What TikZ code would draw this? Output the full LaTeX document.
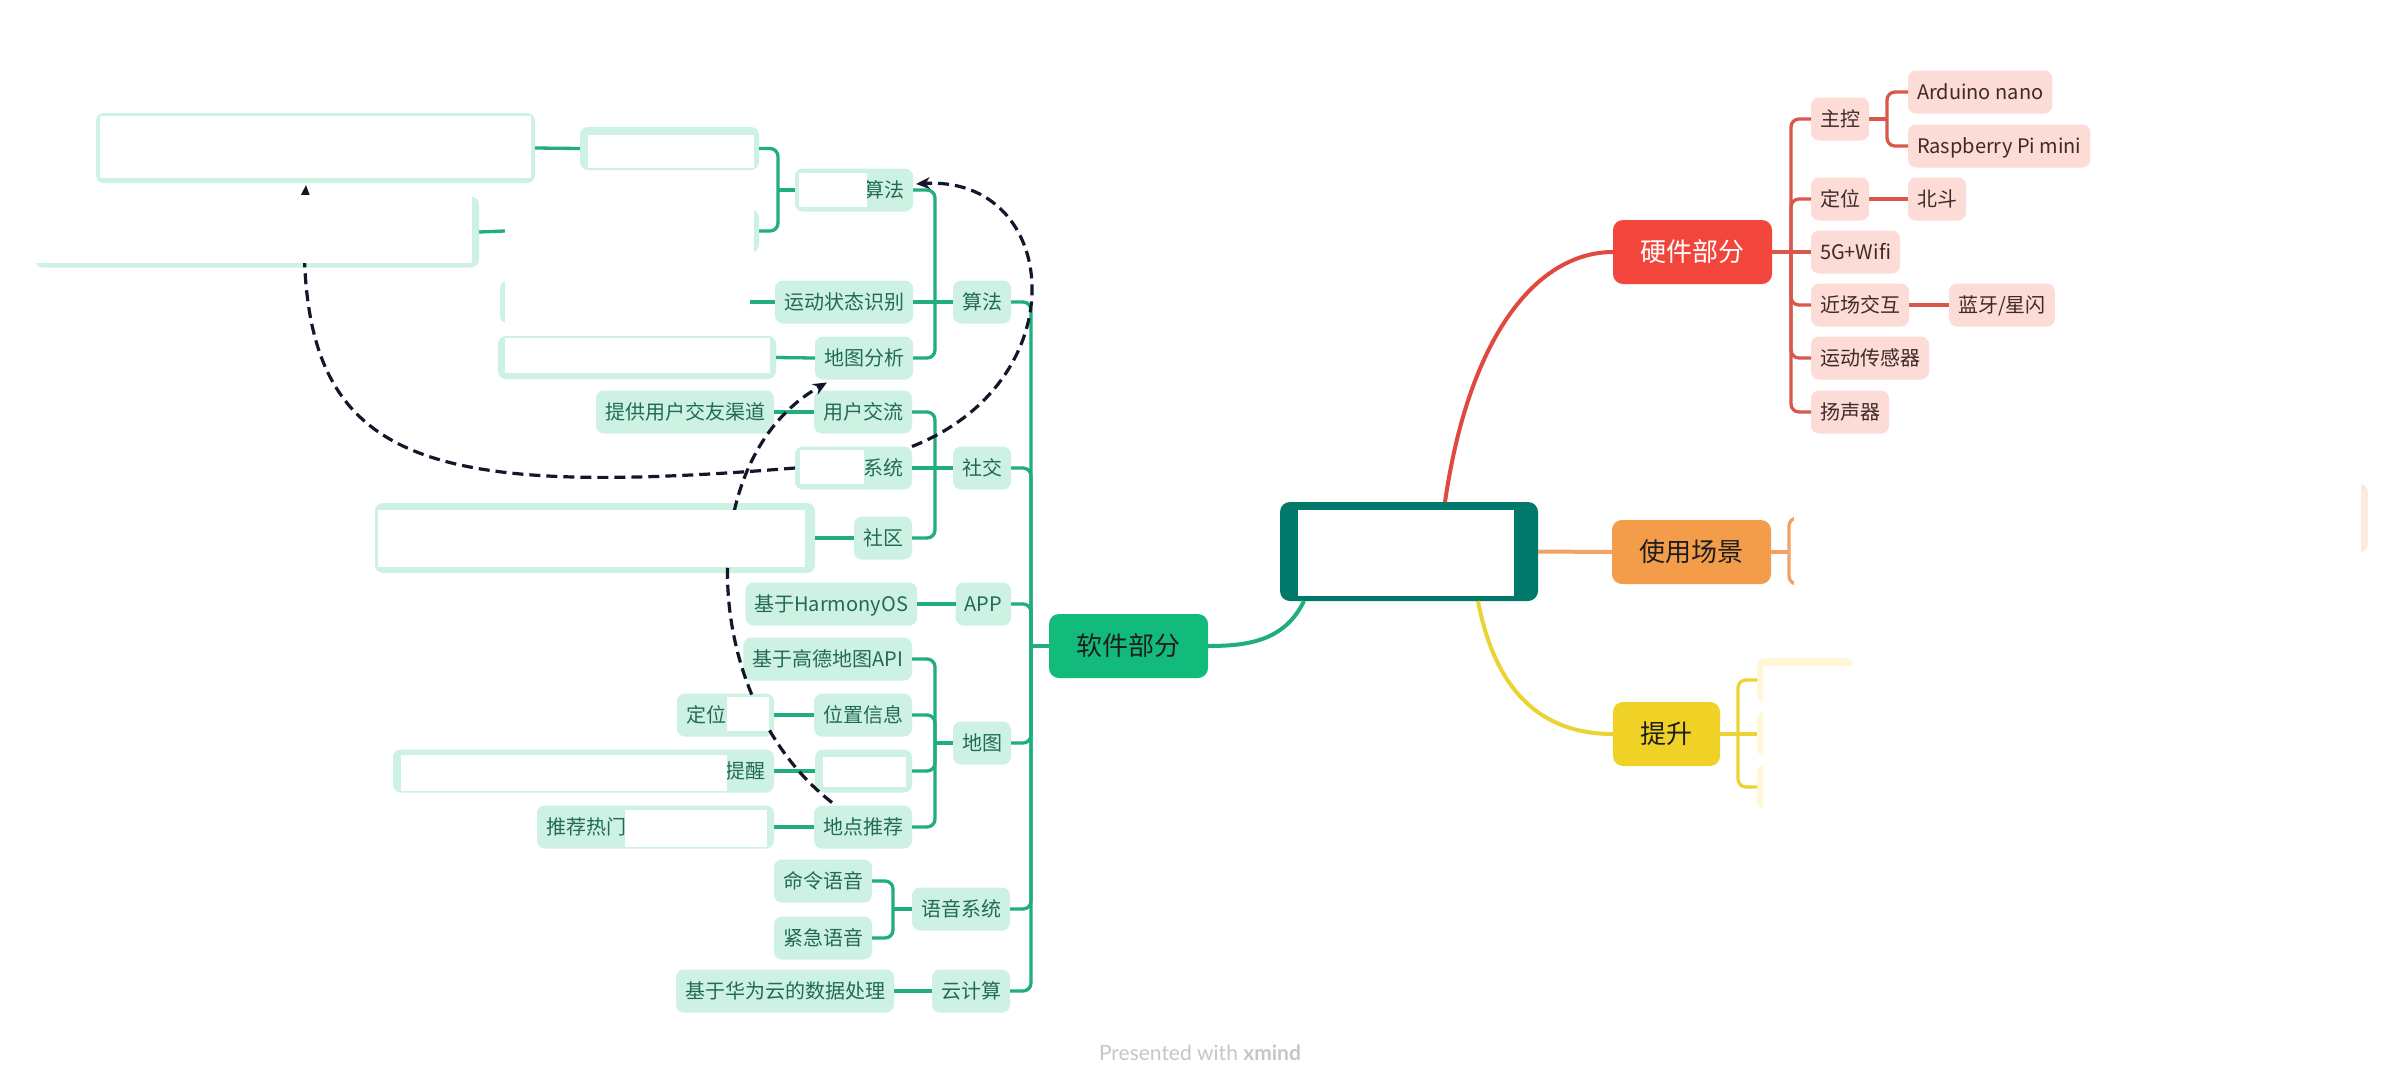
\documentclass[tikz,border=0pt]{standalone}
\usepackage{fontspec}
\newfontfamily\cjk{Noto Sans CJK SC}
\newfontfamily\latofont{Lato}
\usetikzlibrary{arrows.meta,calc}
\definecolor{cTeal}{HTML}{00796B}
\definecolor{hwMain}{HTML}{F2463C}
\definecolor{usMain}{HTML}{F39D4A}
\definecolor{imMain}{HTML}{F0D226}
\definecolor{swMain}{HTML}{12BB7C}
\definecolor{mint}{HTML}{CDF2E3}
\definecolor{pinkc}{HTML}{FDDBD7}
\definecolor{peach}{HTML}{FDEADF}
\definecolor{lyellow}{HTML}{FEF6D4}
\definecolor{swLine}{HTML}{20AE7B}
\definecolor{hwLine}{HTML}{D9574C}
\definecolor{hwCurve}{HTML}{E0493E}
\definecolor{usCurve}{HTML}{F2A264}
\definecolor{imCurve}{HTML}{EAD333}
\definecolor{swText}{HTML}{226B52}
\definecolor{hwText}{HTML}{3E2B28}
\definecolor{darkText}{HTML}{1E1E1E}
\definecolor{arrowC}{HTML}{16162A}
\definecolor{footGray}{HTML}{C6C6C6}
\tikzset{
  basebox/.style={font={\cjk\fontsize{10}{12}\selectfont}, rounded corners=4pt,
    inner xsep=4.5pt, inner ysep=0pt, minimum height=21.5pt,
    text height=8.8pt, text depth=1.2pt, outer sep=0pt},
  swbox/.style={basebox, fill=mint, text=swText},
  hwbox/.style={basebox, fill=pinkc, text=hwText},
  sblank/.style={fill=mint, rounded corners=4pt, inner sep=0pt, outer sep=0pt, minimum height=21.5pt},
  mainbox/.style={font={\cjk\fontsize{13}{15}\selectfont}, rounded corners=5pt,
    minimum height=32pt, inner xsep=13.75pt, inner ysep=0pt,
    text height=11.44pt, text depth=1.56pt, outer sep=0pt},
  swline/.style={draw=swLine, line width=1.65pt, rounded corners=4pt},
  hwline/.style={draw=hwLine, line width=1.65pt, rounded corners=4pt},
  usline/.style={draw=usCurve, line width=1.65pt, rounded corners=4pt},
  imline/.style={draw=imCurve, line width=1.65pt, rounded corners=4pt},
  mainline/.style={line width=2pt},
  dasharrow/.style={draw=arrowC, line width=1.6pt, dash pattern=on 5.5pt off 3pt,
    -{Stealth[length=7pt,width=6pt]}},
  cover/.style={fill=white, draw=none},
}
\begin{document}
\begin{tikzpicture}[x=0.5pt,y=-0.5pt]
\useasboundingbox (0,0) rectangle (2400,1088);
\fill[white] (0,0) rectangle (2400,1088);

% ---------- root and main branches ----------
\node[fill=cTeal, rounded corners=5pt, minimum width=129pt, minimum height=49.5pt,
      inner sep=0pt, outer sep=0pt] (root) at (1409,551.5) {};
\node[mainbox, fill=hwMain, text=white, anchor=west] (nHw) at (1613,252) {硬件部分};
\node[mainbox, fill=usMain, text=darkText, anchor=west] (nUs) at (1612,552) {使用场景};
\node[mainbox, fill=imMain, text=darkText, anchor=west] (nIm) at (1613,734) {提升};
\node[mainbox, fill=swMain, text=darkText, anchor=east] (nSw) at (1208,646) {软件部分};

\draw[mainline, draw=hwCurve] ($(root.north west)+(165,0)$) .. controls (1470,330) and (1540,252) .. (nHw.west);
\draw[mainline, draw=usCurve] (root.east) -- (nUs.west);
\draw[mainline, draw=imCurve] ($(root.south west)+(198,0)$) .. controls (1495,690) and (1540,734) .. (nIm.west);
\draw[mainline, draw=swLine] ($(root.south west)+(24,0)$) .. controls (1285,640) and (1250,646) .. (nSw.east);

% ---------- hardware ----------
\node[hwbox, anchor=west] (hCtrl) at (1811,119) {主控};
\node[hwbox, anchor=west] (hArd) at (1908,92) {Arduino nano};
\node[hwbox, anchor=west] (hRasp) at (1908,146) {Raspberry Pi mini};
\node[hwbox, anchor=west] (hLoc) at (1811,199) {定位};
\node[hwbox, anchor=west] (hBd) at (1908,199) {北斗};
\node[hwbox, anchor=west] (h5g) at (1811,252) {5G+Wifi};
\node[hwbox, anchor=west] (hNfc) at (1811,305) {近场交互};
\node[hwbox, anchor=west] (hBt) at (1949,305) {蓝牙/星闪};
\node[hwbox, anchor=west] (hMot) at (1811,358) {运动传感器};
\node[hwbox, anchor=west] (hSpk) at (1811,412) {扬声器};
\coordinate (jH) at ($(nHw.east)+(19,0)$);
\draw[hwline] (nHw.east) -- (jH);
\foreach \n in {hCtrl,hLoc,hNfc,hMot,hSpk} \draw[hwline] (jH) |- (\n.west);
\draw[hwline] (jH) -- (h5g.west);
\coordinate (jC) at ($(hCtrl.east)+(18,0)$);
\draw[hwline] (hCtrl.east) -- (jC);
\draw[hwline] (jC) |- (hArd.west);
\draw[hwline] (jC) |- (hRasp.west);
\draw[hwline] (hLoc.east) -- (hBd.west);
\draw[hwline] (hNfc.east) -- (hBt.west);

% ---------- usage ----------
\node[fill=peach, rounded corners=5pt, minimum width=284pt, minimum height=35pt,
      inner sep=0pt, outer sep=0pt, anchor=west] (uc1) at (1800,518) {};
\node[fill=peach, rounded corners=5pt, minimum width=200pt, minimum height=18pt,
      inner sep=0pt, outer sep=0pt, anchor=west] (uc2) at (1800,584) {};
\coordinate (jU) at ($(nUs.east)+(18,0)$);
\draw[usline] (nUs.east) -- (jU);
\draw[usline] (jU) |- (uc1.west);
\draw[usline] (jU) |- (uc2.west);

% ---------- improvement ----------
\foreach \nm/\yy in {ic1/680,ic2/734,ic3/787}
  \node[fill=lyellow, rounded corners=4pt, minimum width=48pt, minimum height=22pt,
        inner sep=0pt, outer sep=0pt, anchor=west] (\nm) at (1757,\yy) {};
\coordinate (jI) at ($(nIm.east)+(18,0)$);
\draw[imline] (nIm.east) -- (jI);
\draw[imline] (jI) |- (ic1.west);
\draw[imline] (jI) -- (ic2.west);
\draw[imline] (jI) |- (ic3.west);

% ---------- software level 1 ----------
\node[swbox, anchor=east] (sAlgo) at (1011,302) {算法};
\node[swbox, anchor=east] (sSoc) at (1011,468) {社交};
\node[swbox, anchor=east] (sApp) at (1011,604) {APP};
\node[swbox, anchor=east] (sMap) at (1011,743) {地图};
\node[swbox, anchor=east] (sVoice) at (1010,909) {语音系统};
\node[swbox, anchor=east] (sCloud) at (1010,991) {云计算};
\coordinate (jS) at ($(nSw.west)+(-18,0)$);
\draw[swline] (nSw.west) -- (jS);
\foreach \n in {sAlgo,sSoc,sApp,sMap,sVoice,sCloud} \draw[swline] (jS) |- (\n.east);

% algorithm
\node[swbox, anchor=east, text width=50pt, align=right] (sAlgoSub) at (913,190) {算法};
\node[swbox, anchor=east] (sMotion) at (913,302) {运动状态识别};
\node[swbox, anchor=east] (sMapAna) at (913,358) {地图分析};
\coordinate (jA) at ($(sAlgo.west)+(-18,0)$);
\draw[swline] (sAlgo.west) -- (jA);
\draw[swline] (jA) |- (sAlgoSub.east);
\draw[swline] (jA) -- (sMotion.east);
\draw[swline] (jA) |- (sMapAna.east);
\node[sblank, minimum width=89.5pt, anchor=east] (aBox2) at (759,148.5) {};
\node[sblank, minimum width=127pt, anchor=east] (aBox3) at (759,231) {};
\node[sblank, minimum width=219.5pt, minimum height=35pt, anchor=east] (aBig1) at (535,148) {};
\node[sblank, minimum width=222pt, minimum height=35.5pt, anchor=east] (aBig4) at (479,232) {};
\coordinate (jAS) at ($(sAlgoSub.west)+(-17,0)$);
\draw[swline] (sAlgoSub.west) -- (jAS);
\draw[swline] (jAS) |- (aBox2.east);
\draw[swline] (jAS) |- (aBox3.east);
\draw[swline] (aBox2.west) -- (aBig1.east);
\draw[swline] (aBox3.west) -- (aBig4.east);
\node[sblank, minimum width=125pt, anchor=east] (mBox) at (750,302) {};
\draw[swline] (sMotion.west) -- (mBox.east);
\node[sblank, minimum width=139pt, anchor=east] (maBox) at (776,357.5) {};
\draw[swline] (sMapAna.west) -- (maBox.east);

% social
\node[swbox, anchor=east] (sUser) at (912,412) {用户交流};
\node[swbox, anchor=east, text width=49.5pt, align=right] (sSys) at (912,468) {系统};
\node[swbox, anchor=east] (sComm) at (912,538) {社区};
\coordinate (jSo) at ($(sSoc.west)+(-18,0)$);
\draw[swline] (sSoc.west) -- (jSo);
\draw[swline] (jSo) |- (sUser.east);
\draw[swline] (jSo) -- (sSys.east);
\draw[swline] (jSo) |- (sComm.east);
\node[swbox, anchor=east] (sUserC) at (774,412) {提供用户交友渠道};
\draw[swline] (sUser.west) -- (sUserC.east);
\node[sblank, minimum width=220pt, minimum height=35pt, anchor=east] (cBig) at (815,538) {};
\draw[swline] (sComm.west) -- (cBig.east);

% app
\node[swbox, anchor=east] (sHarm) at (917,604) {基于HarmonyOS};
\draw[swline] (sApp.west) -- (sHarm.east);

% map
\node[swbox, anchor=east] (sAmap) at (912,659) {基于高德地图API};
\node[swbox, anchor=east] (sLoc) at (912,715) {位置信息};
\node[sblank, minimum width=48.5pt, anchor=east] (sRemP) at (912,771) {};
\node[swbox, anchor=east] (sRec) at (912,827) {地点推荐};
\coordinate (jM) at ($(sMap.west)+(-18,0)$);
\draw[swline] (sMap.west) -- (jM);
\foreach \n in {sAmap,sLoc,sRemP,sRec} \draw[swline] (jM) |- (\n.east);
\node[swbox, anchor=east, text width=39.5pt, align=left] (sLocC) at (774,715) {定位};
\node[swbox, anchor=east, text width=181.5pt, align=right] (sRemC) at (774,771) {提醒};
\node[swbox, anchor=east, text width=109.5pt, align=left] (sRecC) at (774,827) {推荐热门};
\draw[swline] (sLoc.west) -- (sLocC.east);
\draw[swline] (sRemP.west) -- (sRemC.east);
\draw[swline] (sRec.west) -- (sRecC.east);

% voice
\node[swbox, anchor=east] (sCmd) at (872,881) {命令语音};
\node[swbox, anchor=east] (sEmg) at (872,938) {紧急语音};
\coordinate (jV) at ($(sVoice.west)+(-19,0)$);
\draw[swline] (sVoice.west) -- (jV);
\draw[swline] (jV) |- (sCmd.east);
\draw[swline] (jV) |- (sEmg.east);

% cloud
\node[swbox, anchor=east] (sCloudD) at (894,991) {基于华为云的数据处理};
\draw[swline] (sCloud.west) -- (sCloudD.east);

% ---------- dashed relation arrows ----------
\draw[dasharrow] (sSys.west) .. controls (400,500) and (290,460) .. ($(aBig1.south west)+(210,2)$);
\draw[dasharrow] ($(sRec.north west)+(18,-3)$) .. controls (700,700) and (690,460) .. ($(sMapAna.south west)+(12,3)$);
\draw[dasharrow] (sSys.north east) .. controls (1080,380) and (1060,175) .. ($(sAlgoSub.east)+(3,-6)$);

% ---------- white covers ----------
\fill[cover] (1298,510) rectangle (1514,596);
\fill[cover] (799,173) rectangle (867,207);
\fill[cover] (100,116) rectangle (531,178);
\fill[cover] (588,135) rectangle (754,168);
\fill[cover] (505,205) rectangle (754,258);
\fill[cover] (33,195) rectangle (472,263);
\fill[cover] (505,276) rectangle (750,328);
\fill[cover] (505,338) rectangle (770,373);
\fill[cover] (800,450) rectangle (864,484);
\fill[cover] (378,510) rectangle (805,567);
\fill[cover] (727,697) rectangle (769,731);
\fill[cover] (823,757) rectangle (906,787);
\fill[cover] (401,755) rectangle (727,791);
\fill[cover] (625,810) rectangle (767,847);
\fill[cover] (1794,470) rectangle (2361,612);
\fill[cover] (1763,666) rectangle (1975,812);

% ---------- footer ----------
\node[font={\latofont\fontsize{10.5}{12}\selectfont}, text=footGray] (foot) at (1200,1053) {Presented with \textbf{xmind}};
\end{tikzpicture}
\end{document}
